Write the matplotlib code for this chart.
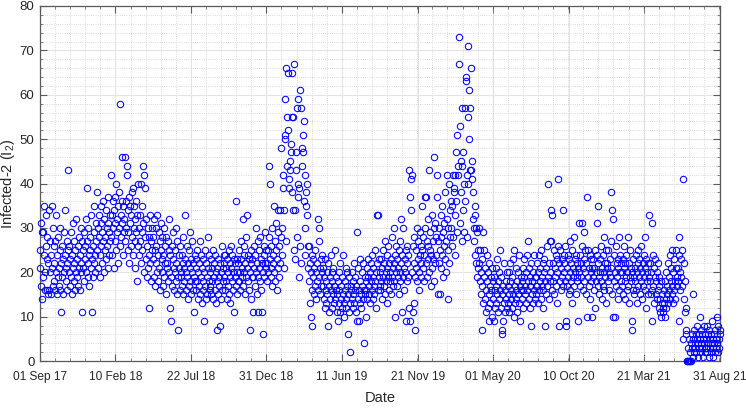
from datetime import datetime

import numpy as np
import matplotlib
matplotlib.use("Agg")
import matplotlib.pyplot as plt
from matplotlib.ticker import AutoMinorLocator, MultipleLocator

# daily Infected-2 counts, one line per month
i2_2017 = [
    25, 21, 31, 17, 29, 14, 19, 29, 24, 35, 16, 20, 26, 33, 16, 23, 28, 15, 22, 34, 16, 27, 20, 15, 24, 35, 21, 17, 30, 26,
    22, 18, 27, 16, 33, 20, 15, 24, 19, 28, 21, 17, 25, 30, 16, 22, 11, 19, 26, 23, 15, 29, 20, 24, 34, 18, 21, 27, 16, 22, 25,
    43, 20, 26, 17, 23, 29, 19, 15, 24, 21, 31, 18, 22, 27, 16, 25, 20, 32, 23, 19, 26, 17, 28, 21, 24, 16, 30, 22, 20, 27,
    11, 25, 21, 29, 18, 26, 23, 32, 20, 27, 39, 22, 19, 30, 24, 17, 28, 25, 21, 33, 23, 11, 26, 19, 29, 22, 35, 24, 20, 27, 31,
]
i2_2018 = [
    38, 25, 30, 21, 28, 33, 24, 19, 31, 26, 35, 22, 29, 27, 36, 20, 32, 25, 28, 34, 23, 30, 26, 37, 21, 31, 29, 24, 33, 27, 42,
    28, 33, 24, 36, 30, 21, 34, 27, 31, 37, 40, 25, 32, 29, 35, 22, 30, 38, 26, 58, 33, 28, 36, 46, 31, 24, 35, 29,
    32, 46, 27, 36, 30, 44, 42, 25, 34, 29, 37, 22, 31, 35, 26, 33, 28, 38, 24, 39, 30, 35, 21, 32, 27, 36, 29, 18, 33, 40, 26,
    30, 24, 33, 27, 40, 22, 29, 35, 25, 44, 31, 42, 20, 39, 28, 23, 32, 19, 26, 30, 21, 24, 12, 28, 33, 22, 27, 18, 25, 30,
    23, 28, 19, 32, 25, 17, 30, 22, 26, 20, 33, 24, 18, 29, 21, 27, 16, 25, 31, 20, 23, 28, 17, 24, 30, 19, 22, 26, 15, 28, 21,
    22, 27, 18, 25, 32, 20, 12, 24, 9, 19, 26, 17, 23, 29, 21, 16, 25, 20, 30, 18, 22, 15, 27, 19, 7, 24, 21, 16, 26, 20,
    19, 24, 17, 22, 28, 15, 21, 18, 33, 23, 16, 20, 26, 19, 14, 22, 25, 17, 21, 29, 18, 15, 23, 20, 27, 16, 22, 11, 19, 24, 18,
    21, 16, 23, 18, 25, 14, 20, 17, 22, 27, 15, 19, 24, 13, 21, 18, 16, 23, 9, 20, 17, 25, 14, 22, 19, 15, 28, 21, 18, 24, 16,
    20, 17, 23, 15, 21, 18, 25, 14, 19, 22, 16, 24, 13, 20, 18, 7, 21, 15, 23, 19, 17, 8, 22, 14, 20, 26, 16, 21, 18, 24,
    19, 22, 16, 24, 18, 21, 14, 23, 20, 17, 25, 15, 22, 19, 13, 26, 21, 18, 24, 16, 20, 23, 11, 19, 22, 17, 36, 20, 15, 23, 18,
    22, 18, 25, 20, 16, 23, 27, 19, 21, 32, 17, 24, 20, 26, 15, 22, 19, 28, 33, 21, 18, 24, 16, 23, 20, 7, 14, 22, 25, 19,
    23, 19, 11, 26, 21, 17, 24, 30, 20, 22, 15, 27, 19, 11, 25, 21, 18, 28, 23, 16, 22, 11, 6, 20, 26, 24, 19, 29, 22, 25, 21,
]
i2_2019 = [
    22, 18, 25, 20, 28, 44, 23, 40, 19, 26, 21, 30, 17, 24, 22, 35, 20, 27, 18, 25, 31, 16, 23, 29, 21, 34, 19, 26, 22, 34, 28,
    48, 24, 30, 42, 39, 21, 34, 51, 50, 59, 27, 66, 44, 55, 52, 65, 39, 41, 43, 45, 49, 47, 55, 38, 65, 34, 55, 25,
    67, 23, 34, 47, 43, 57, 28, 59, 40, 37, 19, 39, 26, 61, 57, 22, 48, 44, 51, 47, 54, 36, 24, 30, 42, 38, 35, 33, 40, 21, 26,
    26, 18, 13, 22, 10, 20, 16, 24, 8, 19, 23, 15, 21, 17, 25, 14, 20, 22, 18, 32, 16, 30, 27, 19, 21, 15, 23, 17, 20, 24,
    17, 21, 14, 19, 12, 23, 16, 18, 13, 20, 15, 8, 22, 17, 11, 19, 14, 24, 16, 12, 20, 18, 15, 21, 13, 17, 25, 14, 19, 16, 11,
    15, 9, 18, 13, 20, 16, 11, 22, 14, 17, 12, 19, 15, 24, 13, 10, 18, 16, 21, 14, 12, 17, 20, 6, 15, 11, 19, 13, 2, 16,
    17, 14, 20, 12, 18, 15, 22, 13, 16, 19, 11, 17, 29, 9, 21, 14, 9, 16, 23, 13, 18, 15, 12, 20, 17, 14, 22, 16, 4, 19, 15,
    18, 10, 16, 21, 14, 19, 23, 15, 17, 20, 13, 22, 18, 16, 24, 14, 19, 21, 15, 17, 25, 18, 20, 12, 22, 33, 16, 33, 19, 23, 17,
    20, 16, 23, 18, 21, 14, 25, 19, 17, 22, 15, 27, 20, 18, 24, 13, 21, 19, 26, 16, 22, 18, 20, 23, 15, 28, 19, 21, 17, 30,
    22, 18, 24, 10, 20, 26, 17, 23, 19, 21, 15, 25, 20, 18, 27, 22, 32, 11, 24, 19, 30, 21, 16, 23, 20, 9, 25, 18, 22, 26, 19,
    24, 12, 43, 9, 37, 41, 34, 42, 20, 11, 26, 13, 22, 28, 19, 7, 25, 21, 30, 18, 23, 27, 20, 16, 24, 29, 22, 19, 26, 35,
    25, 21, 28, 18, 24, 30, 37, 22, 37, 27, 19, 26, 32, 23, 20, 43, 25, 29, 17, 24, 33, 21, 27, 23, 30, 18, 46, 22, 31, 24, 28,
]
i2_2020 = [
    37, 42, 15, 27, 22, 30, 15, 25, 33, 21, 28, 24, 35, 19, 29, 26, 31, 23, 38, 27, 20, 32, 42, 25, 14, 30, 40, 22, 34, 28, 36,
    30, 35, 26, 42, 28, 39, 38, 33, 42, 24, 47, 36, 51, 29, 42, 44, 73, 67, 53, 31, 38, 45, 27, 44, 57, 34, 47, 40, 29,
    36, 57, 64, 63, 42, 28, 55, 71, 40, 61, 50, 57, 43, 43, 66, 41, 45, 32, 38, 30, 27, 35, 33, 24, 30, 22, 29, 19, 25, 21, 30,
    22, 18, 25, 15, 20, 7, 17, 23, 13, 29, 19, 25, 14, 21, 16, 11, 24, 18, 12, 20, 15, 22, 9, 17, 13, 19, 16, 21, 10, 18,
    14, 9, 19, 16, 12, 21, 17, 13, 23, 15, 18, 11, 20, 14, 16, 25, 12, 19, 7, 6, 15, 9, 17, 13, 22, 16, 11, 18, 14, 20, 12,
    17, 13, 20, 15, 11, 18, 22, 14, 16, 12, 19, 23, 15, 10, 25, 17, 13, 21, 16, 14, 18, 11, 20, 15, 24, 13, 17, 9, 19, 16,
    18, 14, 21, 16, 12, 19, 23, 15, 17, 13, 20, 24, 16, 18, 27, 14, 21, 12, 19, 17, 8, 22, 15, 18, 13, 20, 16, 24, 14, 19, 17,
    19, 15, 22, 17, 13, 20, 24, 16, 18, 21, 14, 25, 17, 19, 12, 22, 16, 20, 23, 8, 18, 15, 21, 17, 26, 19, 40, 14, 22, 18, 27,
    20, 27, 34, 16, 33, 22, 18, 25, 15, 21, 19, 24, 17, 23, 20, 13, 41, 26, 8, 22, 18, 25, 16, 21, 19, 23, 34, 17, 20, 24,
    22, 18, 26, 8, 9, 21, 17, 24, 19, 15, 23, 20, 27, 16, 22, 18, 25, 13, 21, 19, 28, 17, 23, 20, 15, 24, 18, 22, 19, 9, 21,
    31, 20, 24, 17, 22, 19, 26, 31, 16, 21, 23, 29, 18, 20, 25, 15, 22, 37, 10, 19, 25, 17, 21, 24, 14, 20, 18, 23, 10, 21,
    19, 23, 16, 21, 12, 25, 18, 20, 24, 31, 17, 22, 35, 19, 15, 23, 20, 26, 18, 14, 21, 24, 17, 20, 28, 16, 22, 19, 25, 13, 21,
]
i2_2021 = [
    22, 18, 25, 20, 16, 23, 19, 38, 27, 21, 15, 34, 32, 10, 24, 18, 20, 10, 26, 17, 22, 19, 14, 23, 21, 28, 16, 20, 24, 18, 22,
    20, 17, 23, 15, 21, 26, 18, 22, 14, 19, 24, 16, 20, 28, 17, 22, 13, 19, 25, 18, 21, 7, 9, 20, 16, 23, 19, 15,
    21, 18, 24, 16, 20, 13, 22, 25, 17, 19, 23, 15, 21, 18, 26, 14, 20, 22, 17, 24, 19, 28, 16, 21, 12, 23, 18, 20, 15, 22, 19,
    33, 18, 22, 15, 20, 31, 16, 9, 24, 17, 21, 13, 19, 23, 15, 18, 20, 14, 22, 16, 19, 12, 17, 11, 14, 10, 18, 13, 15, 12,
    11, 16, 13, 10, 18, 14, 20, 12, 17, 15, 22, 13, 19, 16, 24, 14, 18, 21, 15, 17, 25, 13, 20, 16, 23, 18, 14, 21, 25, 17, 19,
    21, 18, 24, 9, 28, 20, 16, 23, 19, 25, 17, 5, 41, 22, 14, 18, 11, 7, 12, 6, 0, 0, 3, 0, 0, 5, 0, 2, 0, 4,
    3, 6, 1, 5, 15, 2, 7, 4, 3, 6, 2, 5, 8, 4, 1, 6, 3, 10, 5, 2, 7, 4, 3, 6, 1, 5, 4, 8, 2, 6, 3,
    5, 3, 8, 2, 6, 4, 1, 7, 5, 3, 6, 2, 4, 9, 3, 5, 1, 6, 4, 2, 7, 3, 5, 10, 4, 8, 2, 5, 3, 7, 6,
]
year_starts = ["2017-09-01", "2018-01-01", "2019-01-01", "2020-01-01", "2021-01-01"]

tick_labels = ["01 Sep 17", "10 Feb 18", "22 Jul 18", "31 Dec 18", "11 Jun 19",
               "21 Nov 19", "01 May 20", "10 Oct 20", "21 Mar 21", "31 Aug 21"]


def build_series():
    dates, values = [], []
    for start, vals in zip(year_starts, [i2_2017, i2_2018, i2_2019, i2_2020, i2_2021]):
        d0 = np.datetime64(start)
        dates.append(d0 + np.arange(len(vals)))
        values.extend(vals)
    return np.concatenate(dates).astype("datetime64[D]").astype(object), np.array(values)


plt.rcParams["font.family"] = ["Liberation Sans", "DejaVu Sans"]
plt.rcParams["mathtext.default"] = "regular"

dates, values = build_series()

fig = plt.figure(figsize=(7.46, 4.08), dpi=100)
ax = fig.add_axes([40 / 746, 47 / 408, 680 / 746, 355 / 408])

ax.plot(dates, values, linestyle="none", marker="o", markersize=4.6,
        markerfacecolor="none", markeredgecolor="#0000ff", markeredgewidth=0.75,
        clip_on=False, zorder=3)

tick_dates = [datetime.strptime(t, "%d %b %y") for t in tick_labels]
ax.set_xlim(tick_dates[0], tick_dates[-1])
ax.set_xticks(tick_dates)
ax.set_xticklabels(tick_labels)
ax.xaxis.set_minor_locator(AutoMinorLocator(5))

ax.set_ylim(0, 80)
ax.yaxis.set_major_locator(MultipleLocator(10))
ax.yaxis.set_minor_locator(AutoMinorLocator(5))

ax.grid(which="major", color="#e4e4e4", linestyle="-", linewidth=0.8, zorder=0)
ax.grid(which="minor", color="#cfcfcf", linestyle=":", linewidth=0.6, zorder=0)
ax.set_axisbelow(True)

for sp in ax.spines.values():
    sp.set_color("#5a5a5a")
    sp.set_linewidth(0.9)
ax.tick_params(which="major", direction="in", length=5, width=0.8, color="#5a5a5a",
               top=True, right=True, labelcolor="#262626")
ax.tick_params(axis="x", which="major", labelsize=8.6, pad=7)
ax.tick_params(axis="y", which="major", labelsize=9.5, pad=4)
ax.tick_params(which="minor", direction="in", length=2, width=0.5, color="#5a5a5a",
               top=True, right=True)

ax.set_xlabel("Date", fontsize=10.5, color="#262626", labelpad=6)
ax.set_ylabel("Infected-2 (I$_2$)", fontsize=10.5, color="#262626")
ax.yaxis.set_label_coords(-0.034, 0.5)

fig.savefig("out.png", dpi=100)
